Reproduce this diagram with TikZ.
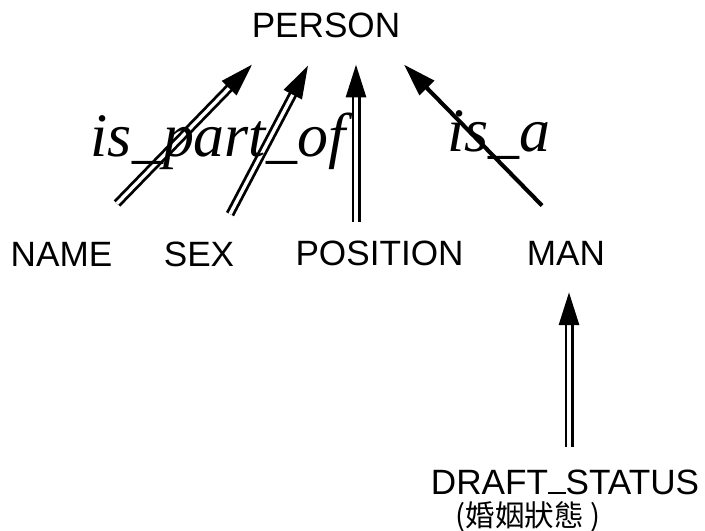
\documentclass[tikz,border=0pt]{standalone}
\usepackage{fontspec}
\setmainfont{Liberation Serif}
\newfontfamily\conceptfont{Liberation Sans}
\newfontfamily\cjk{Noto Sans CJK TC}
\usepackage{tikz}
\usetikzlibrary{arrows.meta, calc}

% underscore sitting on the baseline
\newcommand{\lowbar}{\rule[0pt]{0.5em}{0.07em}}

\begin{document}
\begin{tikzpicture}[
                x=0.025cm, y=-0.025cm,
                concept/.style={inner sep=0pt, anchor=base, font=\conceptfont\fontsize{25}{29}\selectfont},
                rel_text/.style={inner sep=0pt, anchor=base, font=\itshape\fontsize{44}{50}\selectfont},
                part_link/.style={double, double distance=2.4pt, line width=2pt, -{Triangle[length=0.82cm, width=0.5cm]}},
                isa_link/.style={line width=2.9pt, -{Triangle[length=0.82cm, width=0.5cm]}}
            ]
                \useasboundingbox (0,0) rectangle (705,531);

                % Concepts
                \node[concept] (person) at (326,38) {PERSON};
                \node[concept] (name) at (61.5,267) {NAME};
                \node[concept] (sex) at (199,267) {SEX};
                \node[concept] (position) at (379.5,266) {POSITION};
                \node[concept] (man) at (566,266) {MAN};
                \node[concept] (draft) at (565,494) {DRAFT\lowbar STATUS};
                \node[inner sep=0pt, anchor=base, font=\cjk\fontsize{21}{24}\selectfont] (draftcn) at (528,526) {(婚姻狀態 )};

                % Part-of links
                \draw[part_link] ($(name.north)+(55.5,-39)$) -- ($(person.south)+(-74,26)$);
                \draw[part_link] ($(sex.north)+(31,-28)$) -- ($(person.south)+(-18,27)$);
                \draw[part_link] ($(position.north)+(-23.5,-19)$) -- ($(person.south)+(30,26)$);
                \draw[part_link] ($(draft.north)+(4,-22)$) -- ($(man.south)+(3,26)$);

                % Is-a link
                \draw[isa_link] ($(man.north)+(-24,-36)$) -- ($(person.south)+(78,26)$);

                % Relation names
                \node[rel_text] (partof) at (218,157) {is\_part\_of};
                \node[rel_text] (isa) at (499,152) {is\_a};

            \end{tikzpicture}
\end{document}
